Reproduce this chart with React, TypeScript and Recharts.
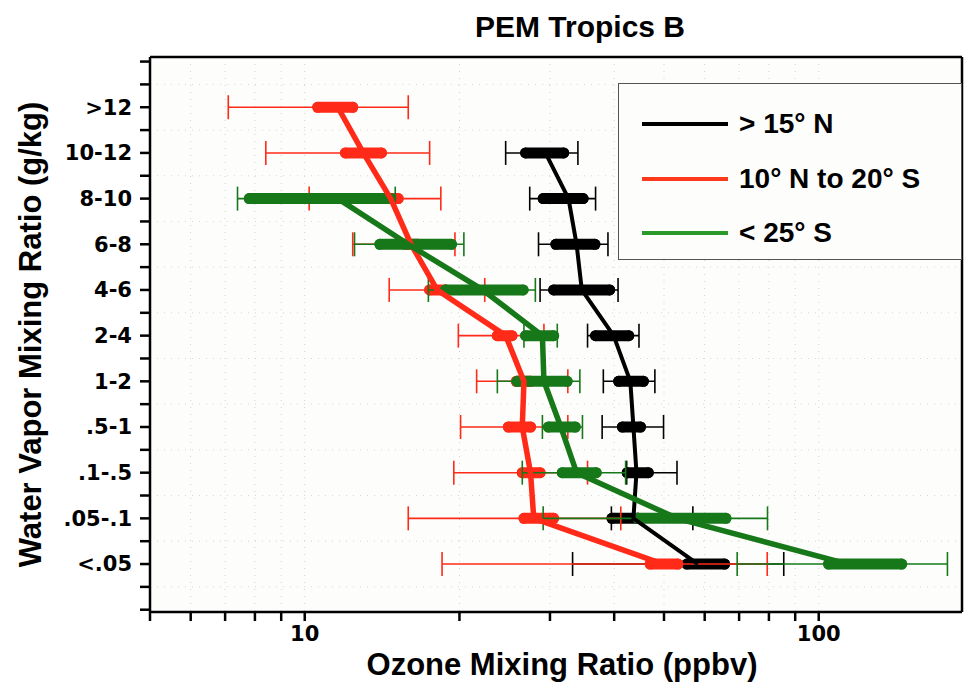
import {
  CartesianGrid,
  ErrorBar,
  Legend,
  ReferenceLine,
  Scatter,
  ScatterChart,
  XAxis,
  YAxis,
} from "recharts";

// water vapour bins, top to bottom
const categories = [">12", "10-12", "8-10", "6-8", "4-6", "2-4", "1-2", ".5-1", ".1-.5", ".05-.1", "<.05"];

// > 15° N
const northMed = [null, 29.4, 32.6, 33.8, 34.6, 39.9, 43.0, 43.6, 44.2, 43.6, 58.2];
const northQ1 = [null, 26.9, 29.1, 30.8, 30.5, 36.8, 40.8, 41.5, 42.4, 39.6, 55.4];
const northQ3 = [null, 31.9, 34.8, 36.7, 39.2, 42.7, 45.6, 45.0, 46.6, 44.5, 65.6];
const northMin = [null, 24.6, 27.4, 28.5, 28.7, 35.5, 38.1, 37.9, 42.3, 39.5, 33.2];
const northMax = [null, 34.0, 36.8, 38.9, 40.7, 44.7, 48.0, 49.9, 53.0, 56.9, 85.5];

// 10° N to 20° S
const tropMed = [11.6, 13.0, 14.7, 16.1, 18.1, 24.6, 26.7, 26.5, 27.5, 27.9, 49.8];
const tropQ1 = [10.6, 12.0, 14.4, 15.7, 17.5, 23.7, 25.8, 24.9, 26.5, 26.7, 47.0];
const tropQ3 = [12.4, 14.1, 15.2, 16.6, 18.8, 25.3, 27.5, 27.5, 28.7, 30.5, 53.2];
const tropMin = [7.1, 8.4, 10.2, 12.4, 14.6, 19.9, 21.6, 20.1, 19.5, 15.9, 18.5];
const tropMax = [15.9, 17.5, 18.4, 19.6, 22.4, 29.2, 32.5, 32.5, 35.5, 41.2, 79.4];

// < 25° S
const southMed = [null, null, 11.6, 15.9, 22.2, 29.0, 29.2, 31.5, 33.8, 53.0, 114];
const southQ1 = [null, null, 7.8, 14.0, 18.8, 26.9, 25.9, 29.8, 31.7, 44.5, 104.5];
const southQ3 = [null, null, 14.7, 19.3, 26.6, 30.5, 32.4, 33.6, 36.9, 66.0, 145];
const southMin = [null, null, 7.4, 12.5, 17.4, 26.7, 23.7, 29.0, 26.5, 29.1, 69.4];
const southMax = [null, null, 15.0, 20.4, 28.1, 31.0, 34.3, 34.7, 42.1, 79.5, 178];

const xTicks = [5, 6, 7, 8, 9, 10, 20, 30, 40, 50, 60, 70, 80, 90, 100];
const xLabels = [10, 100];
const yTicks = [-1, -0.5, 0, 0.5, 1, 1.5, 2, 2.5, 3, 3.5, 4, 4.5, 5, 5.5, 6, 6.5, 7, 7.5, 8, 8.5, 9, 9.5, 10, 10.5, 11];
const yGrid = yTicks.filter((v) => !Number.isInteger(v));

type Row = { pos: number; med: number; err: [number, number]; box: [number, number] };

function rows(
  med: (number | null)[],
  q1: (number | null)[],
  q3: (number | null)[],
  lo: (number | null)[],
  hi: (number | null)[],
): Row[] {
  const out: Row[] = [];
  med.forEach((m, i) => {
    if (m == null) return;
    out.push({
      pos: i,
      med: m,
      err: [m - (lo[i] as number), (hi[i] as number) - m],
      box: [m - (q1[i] as number), (q3[i] as number) - m],
    });
  });
  return out;
}

const series = [
  { name: "> 15° N", color: "#000000", legend: "#000000", width: 4, data: rows(northMed, northQ1, northQ3, northMin, northMax) },
  { name: "10° N to 20° S", color: "#ff2a18", legend: "#ff3a1c", width: 5.5, data: rows(tropMed, tropQ1, tropQ3, tropMin, tropMax) },
  { name: "< 25° S", color: "#17781a", legend: "#2a9a2a", width: 5.5, data: rows(southMed, southQ1, southQ3, southMin, southMax) },
];

const tickFont = { fontFamily: "DejaVu Sans", fontWeight: 700, fill: "#000" };
const labelFont = "'Liberation Sans', Arial, sans-serif";
const frame = { stroke: "#000", strokeWidth: 2.5 };

function LegendBox() {
  return (
    <div
      style={{
        position: "relative",
        width: 344,
        height: 177,
        border: "1.5px solid #555",
        boxSizing: "border-box",
        background: "#fdfdfc",
        fontFamily: labelFont,
        fontWeight: 700,
        fontSize: 28,
        color: "#000",
      }}
    >
      {series.map((s, i) => (
        <div
          key={s.name}
          style={{
            position: "absolute",
            left: 23,
            top: 22 + i * 54.5,
            height: 36,
            display: "flex",
            alignItems: "center",
            whiteSpace: "nowrap",
          }}
        >
          <svg width={88} height={8} style={{ marginRight: 9 }}>
            <line x1={0} x2={86} y1={4} y2={4} stroke={s.legend} strokeWidth={4} />
          </svg>
          {s.name}
        </div>
      ))}
    </div>
  );
}

export default function App() {
  return (
    <div style={{ position: "absolute", left: 0, top: 0, width: 967, height: 683, background: "#fff" }}>
      <div
        style={{
          position: "absolute",
          left: 380,
          top: 11,
          width: 400,
          textAlign: "center",
          fontFamily: labelFont,
          fontWeight: 700,
          fontSize: 30,
          lineHeight: "32px",
        }}
      >
        PEM Tropics B
      </div>
      <ScatterChart width={967} height={683} margin={{ top: 57, right: 0, bottom: 0, left: 0 }}>
        <CartesianGrid horizontal={false} stroke="#d2d2d2" strokeDasharray="1 6" fill="#fdfdfc" />
        {yGrid.map((v) => (
          <ReferenceLine key={v} y={v} stroke="#d6d6d6" strokeDasharray="1 6" />
        ))}
        <XAxis
          type="number"
          dataKey="med"
          scale="log"
          domain={[5, 190]}
          allowDataOverflow
          ticks={xTicks}
          interval={0}
          height={71}
          tickSize={9}
          tickMargin={5}
          tickLine={frame}
          axisLine={frame}
          tick={{ ...tickFont, fontSize: 21 }}
          tickFormatter={(v: number) => (xLabels.includes(v) ? String(v) : "")}
          label={{
            content: (p: any) => {
              const vb = p.viewBox;
              return (
                <text
                  x={vb.x + vb.width / 2 + 6}
                  y={vb.y + 63}
                  textAnchor="middle"
                  fontFamily={labelFont}
                  fontWeight={700}
                  fontSize={31}
                >
                  Ozone Mixing Ratio (ppbv)
                </text>
              );
            },
          }}
        />
        <XAxis
          xAxisId="top"
          orientation="top"
          type="number"
          scale="log"
          domain={[5, 190]}
          allowDataOverflow
          ticks={xTicks}
          interval={0}
          mirror
          tick={false}
          tickSize={9}
          tickLine={frame}
          axisLine={frame}
        />
        <YAxis
          type="number"
          dataKey="pos"
          reversed
          domain={[-1.1, 11.05]}
          allowDataOverflow
          ticks={yTicks}
          interval={0}
          width={150}
          tickSize={10}
          tickMargin={8}
          tickLine={frame}
          axisLine={frame}
          tick={{ ...tickFont, fontSize: 21 }}
          tickFormatter={(v: number) => (Number.isInteger(v) && v >= 0 && v <= 10 ? categories[v] : "")}
          label={{
            content: (p: any) => {
              const vb = p.viewBox;
              const x = 30;
              const y = vb.y + vb.height / 2;
              return (
                <text
                  x={x}
                  y={y}
                  transform={`rotate(-90 ${x} ${y})`}
                  textAnchor="middle"
                  dominantBaseline="central"
                  fontFamily={labelFont}
                  fontWeight={700}
                  fontSize={31}
                >
                  Water Vapor Mixing Ratio (g/kg)
                </text>
              );
            },
          }}
        />
        <YAxis
          yAxisId="right"
          orientation="right"
          type="number"
          reversed
          domain={[-1.1, 11.05]}
          allowDataOverflow
          ticks={yTicks}
          interval={0}
          width={5}
          tickSize={6}
          tick={false}
          tickLine={frame}
          axisLine={frame}
        />
        {series.map((s) => (
          <Scatter
            key={s.name}
            name={s.name}
            data={s.data}
            fill={s.color}
            line={{ stroke: s.color, strokeWidth: s.width, strokeLinejoin: "round" }}
            lineType="joint"
            shape={() => <g />}
            isAnimationActive={false}
          >
            <ErrorBar dataKey="err" direction="x" width={12} stroke={s.color} strokeWidth={1.6} isAnimationActive={false} />
            <ErrorBar
              dataKey="box"
              direction="x"
              width={0}
              stroke={s.color}
              strokeWidth={11}
              strokeLinecap="round"
              isAnimationActive={false}
            />
          </Scatter>
        ))}
        <Legend
          layout="vertical"
          align="center"
          verticalAlign="middle"
          wrapperStyle={{ left: 618, top: 83, width: 344, height: 177 }}
          content={() => <LegendBox />}
        />
      </ScatterChart>
    </div>
  );
}
